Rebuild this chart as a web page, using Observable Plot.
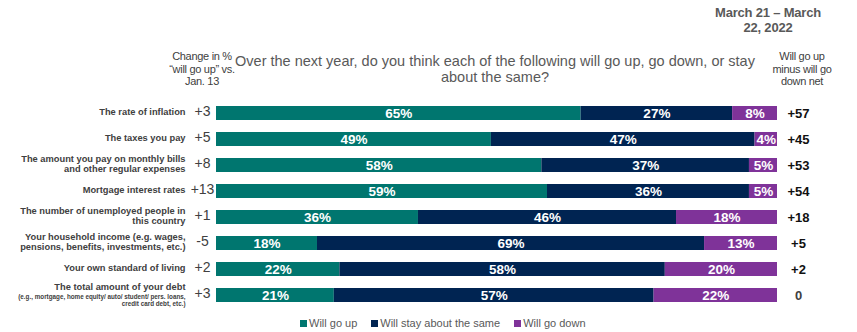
<!DOCTYPE html>
<html>
<head>
<meta charset="utf-8">
<script src="https://cdn.jsdelivr.net/npm/d3@7"></script>
<script src="https://cdn.jsdelivr.net/npm/@observablehq/plot@0.6"></script>
<style>
  body { margin: 0; background: #fff; }
  #wrap { position: relative; width: 857px; height: 332px; font-family: "Liberation Sans", Arial, sans-serif; }
  .hdr { position: absolute; text-align: center; }
  #date { left: 688px; width: 160px; top: 5px; font: bold 13px/15px "Liberation Sans", sans-serif; letter-spacing: -0.2px; color: #595959; }
  #chg { left: 142px; width: 120px; top: 50px; font: 11px/12.5px "Liberation Sans", sans-serif; letter-spacing: -0.3px; color: #404040; }
  #netH { left: 752px; width: 100px; top: 50px; font: 11px/12.5px "Liberation Sans", sans-serif; letter-spacing: -0.3px; color: #404040; }
  #title { left: 195px; width: 600px; top: 54px; font: 14.5px/15.5px "Liberation Sans", sans-serif; color: #595959; }
  #plot { position: absolute; left: 0; top: 90px; }
  #legend { position: absolute; left: 300px; top: 316px; display: flex; gap: 14px; font: 11px/14px "Liberation Sans", sans-serif; color: #595959; }
  #legend span.sw { display: inline-block; width: 7px; height: 7px; margin-right: 2px; }
</style>
</head>
<body>
<div id="wrap">
  <div class="hdr" id="date"></div>
  <div class="hdr" id="chg"></div>
  <div class="hdr" id="title"></div>
  <div class="hdr" id="netH"></div>
  <div id="plot"></div>
  <div id="legend"></div>
</div>
<script>
const dateText = ["March 21 – March", "22, 2022"];
const changeHeader = ["Change in %", "“will go up” vs.", "Jan. 13"];
const titleText = ["Over the next year, do you think each of the following will go up, go down, or stay", "about the same?"];
const netHeader = ["Will go up", "minus will go", "down net"];

const items = [
  "The rate of inflation",
  "The taxes you pay",
  "The amount you pay on monthly bills\nand other regular expenses",
  "Mortgage interest rates",
  "The number of unemployed people in\nthis country",
  "Your household income (e.g. wages,\npensions, benefits, investments, etc.)",
  "Your own standard of living",
  "The total amount of your debt"
];
const subLabels = ["", "", "", "", "", "", "", "(e.g., mortgage, home equity/ auto/ student/ pers. loans,\ncredit card debt, etc.)"];
const categories = ["Will go up", "Will stay about the same", "Will go down"];
const colors = ["#00766F", "#002452", "#7F3399"];
const goUp = [65, 49, 58, 59, 36, 18, 22, 21];
const stay = [27, 47, 37, 36, 46, 69, 58, 57];
const goDown = [8, 4, 5, 5, 18, 13, 20, 22];
const change = ["+3", "+5", "+8", "+13", "+1", "-5", "+2", "+3"];
const net = ["+57", "+45", "+53", "+54", "+18", "+5", "+2", "0"];

document.getElementById("date").innerHTML = dateText.join("<br>");
document.getElementById("chg").innerHTML = changeHeader.join("<br>");
document.getElementById("title").innerHTML = titleText.join("<br>");
document.getElementById("netH").innerHTML = netHeader.join("<br>");

const series = [goUp, stay, goDown];
const long = items.flatMap((item, i) => categories.map((c, k) => ({item, category: c, value: series[k][i]})));
const rows = items.map((item, i) => ({item, sub: subLabels[i], change: change[i], net: net[i], i}));
const plain = rows.filter(d => !d.sub);
const withSub = rows.filter(d => d.sub);

const labelStyle = {textAnchor: "end", fontWeight: "bold", fill: "#404040", letterSpacing: "-0.5px"};

const chart = Plot.plot({
  width: 857,
  height: 228,
  marginLeft: 216,
  marginRight: 80,
  marginTop: 1,
  marginBottom: 2,
  x: {domain: [0, 100], axis: null},
  y: {domain: items, axis: null, padding: 0.47},
  color: {domain: categories, range: colors},
  style: {fontFamily: "'Liberation Sans', Arial, sans-serif", background: "white", overflow: "visible"},
  marks: [
    Plot.barX(long, {x: "value", y: "item", fill: "category"}),
    Plot.text(long, Plot.stackX({x: "value", y: "item", z: "category", text: d => d.value + "%", fill: "white", fontWeight: "bold", fontSize: 13.5})),
    Plot.text(plain, {x: () => 0, y: "item", text: "item", dx: -31, dy: -2, fontSize: 9.3, lineHeight: 1.1, ...labelStyle}),
    Plot.text(withSub, {x: () => 0, y: "item", text: "item", dx: -31, dy: -8, fontSize: 9.3, ...labelStyle}),
    Plot.text(withSub, {x: () => 0, y: "item", text: "sub", dx: -31, dy: 5, fontSize: 6.3, lineHeight: 1.15, ...labelStyle, letterSpacing: "-0.1px"}),
    Plot.text(rows, {x: () => 0, y: "item", text: "change", dx: -14, dy: -2, fontSize: 14, fill: "#404040", letterSpacing: "-0.8px"}),
    Plot.text(rows, {x: () => 100, y: "item", text: "net", dx: 21, fontSize: 13, fontWeight: "bold", fill: d => d.net === "0" ? "#404040" : "#111", letterSpacing: "-0.3px"})
  ]
});
document.getElementById("plot").appendChild(chart);

const legend = document.getElementById("legend");
categories.forEach((c, k) => {
  const el = document.createElement("div");
  el.innerHTML = `<span class="sw" style="background:${colors[k]}"></span>${c}`;
  legend.appendChild(el);
});
</script>
</body>
</html>
